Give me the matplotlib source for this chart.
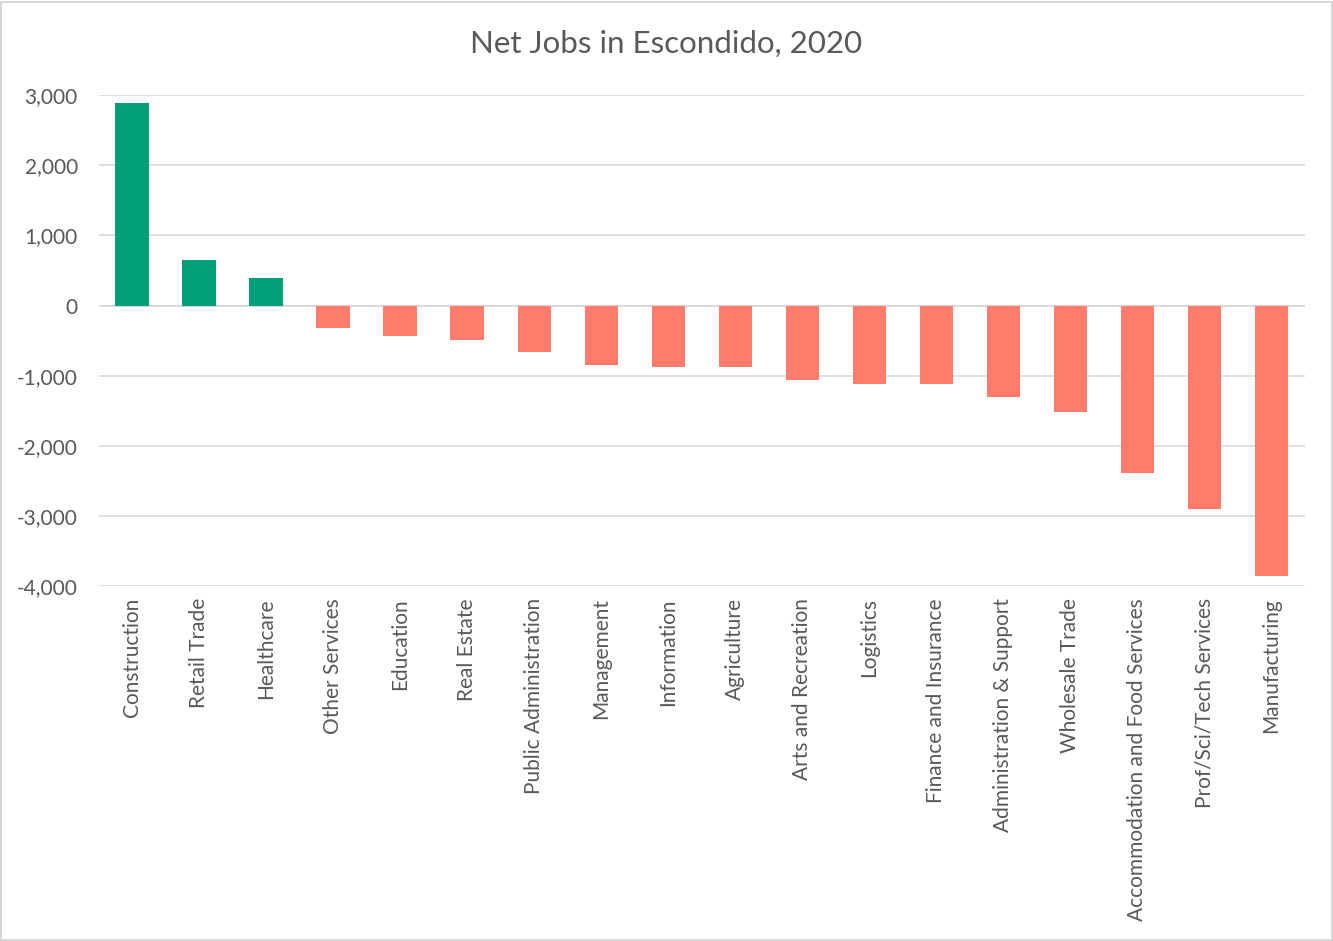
import matplotlib.pyplot as plt
import matplotlib.ticker as mticker
from matplotlib.patches import Rectangle

industries = ['Construction', 'Retail Trade', 'Healthcare', 'Other Services', 'Education',
              'Real Estate', 'Public Administration', 'Management', 'Information', 'Agriculture',
              'Arts and Recreation', 'Logistics', 'Finance and Insurance', 'Administration & Support',
              'Wholesale Trade', 'Accommodation and Food Services', 'Prof/Sci/Tech Services',
              'Manufacturing']
net_jobs = [2880, 650, 390, -320, -440, -490, -660, -850, -870, -870,
            -1060, -1120, -1120, -1300, -1510, -2390, -2900, -3860]
y_ticks = [-4000, -3000, -2000, -1000, 0, 1000, 2000, 3000]

green = '#009E79'
coral = '#FF7B6B'
text_col = '#595959'

plt.rcParams['font.family'] = ['Lato', 'DejaVu Sans']

fig = plt.figure(figsize=(13.33, 9.41), dpi=100, facecolor='w')
ax = fig.add_axes([0.074, 0.377, 0.905, 0.522])

colors = [green if v >= 0 else coral for v in net_jobs]
ax.bar(range(len(industries)), net_jobs, width=0.5, color=colors, zorder=3)

ax.set_xlim(-0.5, len(industries) - 0.5)
ax.set_ylim(-4000, 3000)
ax.set_yticks(y_ticks)
ax.yaxis.set_major_formatter(mticker.FuncFormatter(lambda v, p: f'{int(v):,}'))
ax.grid(axis='y', color='#D9D9D9', linewidth=1.2, zorder=0)
ax.axhline(0, color='#D9D9D9', linewidth=1.2, zorder=1)
for s in ax.spines.values():
    s.set_visible(False)
ax.tick_params(axis='y', length=0, labelsize=15, colors=text_col, pad=15)
ax.set_xticks(range(len(industries)))
ax.set_xticklabels(industries, rotation=90, fontsize=15, color=text_col)
ax.tick_params(axis='x', length=0, colors=text_col, pad=8.5)

fig.text(0.5, 0.953, 'Net Jobs in Escondido, 2020', ha='center', va='center',
         fontsize=22.5, color=text_col)
fig.patches.append(Rectangle((0.001, 0.001), 0.998, 0.997, transform=fig.transFigure,
                             fill=False, edgecolor='#D0D0D0', linewidth=1.2))

fig.savefig('out.png', dpi=100, facecolor='w')
